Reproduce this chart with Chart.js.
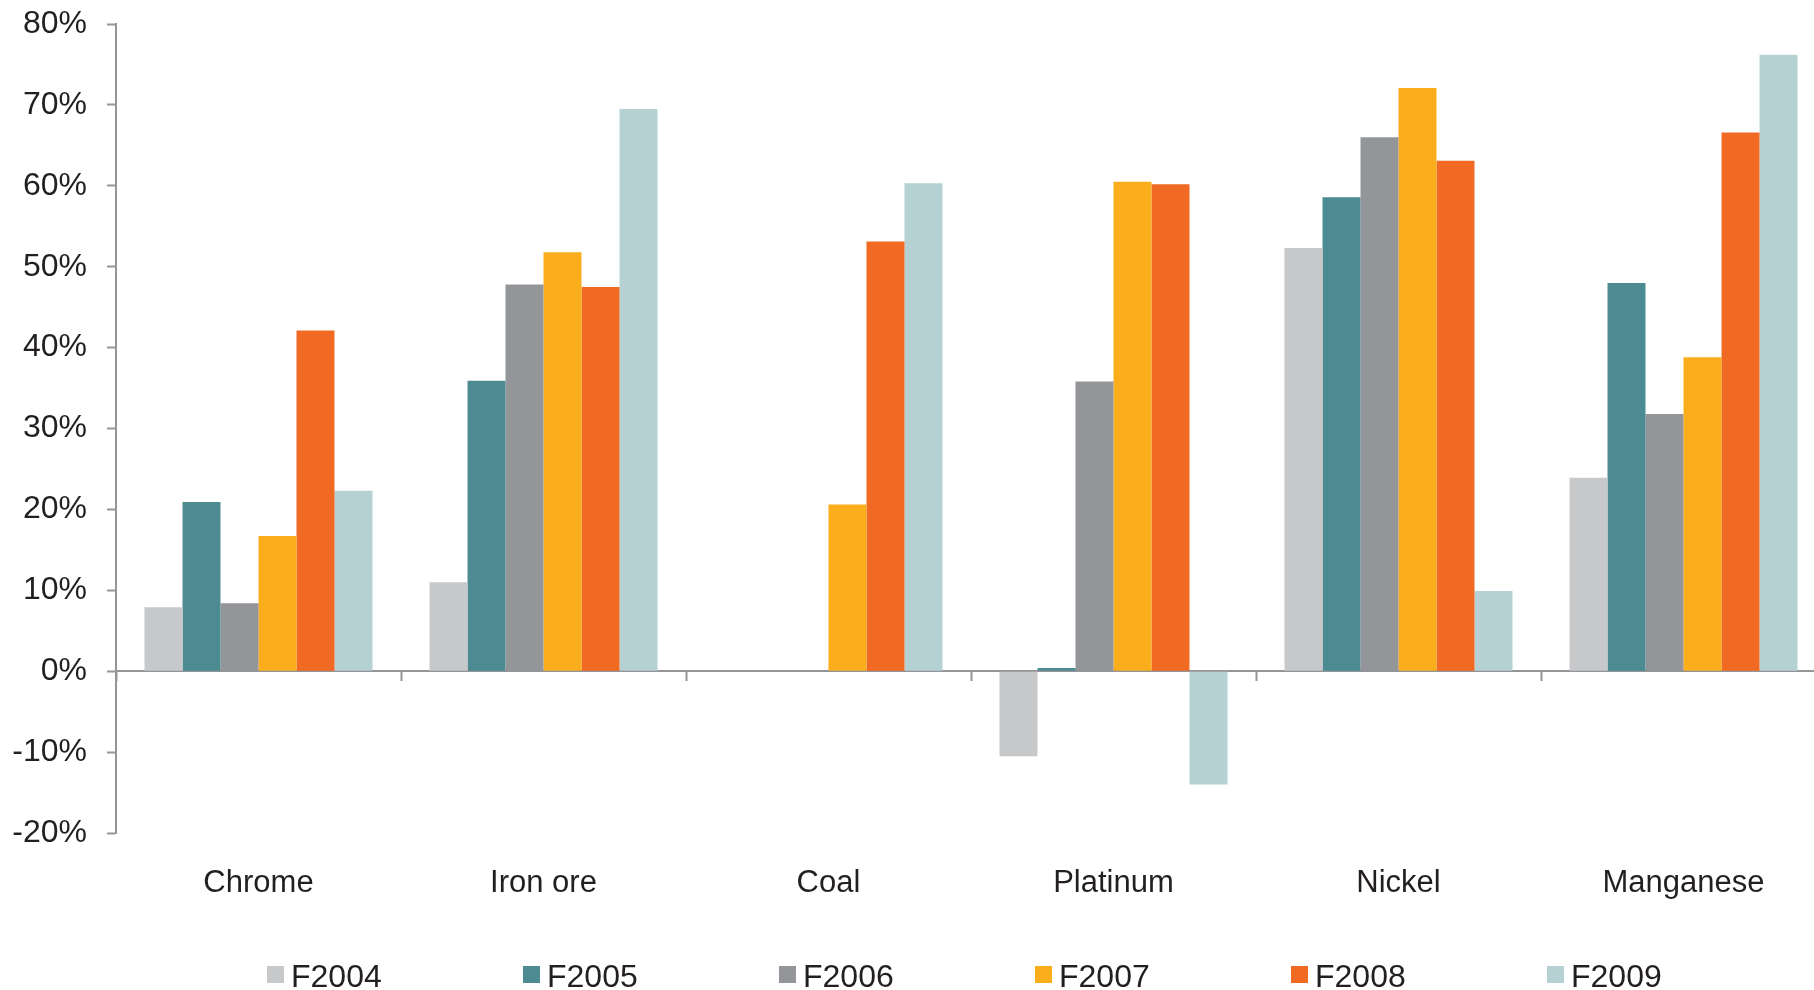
<!DOCTYPE html>
<html>
<head>
<meta charset="utf-8">
<title>Commodity price changes by financial year</title>
<script src="https://cdn.jsdelivr.net/npm/chart.js@4/dist/chart.umd.min.js"></script>
<style>
  html, body { margin: 0; padding: 0; background: #ffffff; overflow: hidden; }
  #wrap { position: relative; width: 1826px; height: 990px; }
  #chart { position: absolute; left: 0; top: 0; }
  #legend {
    position: absolute; left: 267px; top: 960px; display: flex;
    font-family: "Liberation Sans", Arial, sans-serif; font-size: 32px; line-height: 32px; color: #231f20;
  }
  #legend .item { position: relative; width: 256px; height: 32px; }
  #legend .swatch { position: absolute; left: 0; top: 6px; width: 17px; height: 17px; }
  #legend .label { position: absolute; left: 24px; top: 0; white-space: nowrap; }
</style>
</head>
<body>
<div id="wrap">
  <canvas id="chart" width="1826" height="990"></canvas>
  <div id="legend"></div>
</div>
<script>
// Commodities on the category axis
const categories = ['Chrome', 'Iron ore', 'Coal', 'Platinum', 'Nickel', 'Manganese'];

// Financial years shown as series
const seriesNames = ['F2004', 'F2005', 'F2006', 'F2007', 'F2008', 'F2009'];

// Year-on-year change per commodity, in percent
const f2004 = [7.9, 11.0, 0, -10.5, 52.3, 23.9];
const f2005 = [20.9, 35.9, 0, 0.4, 58.6, 48.0];
const f2006 = [8.4, 47.8, 0, 35.8, 66.0, 31.8];
const f2007 = [16.7, 51.8, 20.6, 60.5, 72.1, 38.8];
const f2008 = [42.1, 47.5, 53.1, 60.2, 63.1, 66.6];
const f2009 = [22.3, 69.5, 60.3, -14.0, 9.9, 76.2];

// Value axis range and tick step, in percent
const yMin = -20;
const yMax = 80;
const yStep = 10;

const seriesValues = [f2004, f2005, f2006, f2007, f2008, f2009];
const seriesColors = ['#c7c8ca', '#4d8b93', '#939598', '#fbae1b', '#f06a24', '#b6d1d4'];

const axisGray = '#939598';
const textColor = '#231f20';
const fontFamily = '"Liberation Sans", Arial, sans-serif';

// Builds the legend row underneath the chart from the datasets
const htmlLegend = {
  id: 'htmlLegend',
  afterUpdate(chart) {
    const box = document.getElementById('legend');
    box.innerHTML = '';
    chart.data.datasets.forEach((ds) => {
      const item = document.createElement('div');
      item.className = 'item';
      const sw = document.createElement('span');
      sw.className = 'swatch';
      sw.style.background = ds.backgroundColor;
      const lb = document.createElement('span');
      lb.className = 'label';
      lb.textContent = ds.label;
      item.appendChild(sw);
      item.appendChild(lb);
      box.appendChild(item);
    });
  }
};

new Chart(document.getElementById('chart'), {
  type: 'bar',
  data: {
    labels: categories,
    datasets: seriesNames.map((name, i) => ({
      label: name,
      data: seriesValues[i],
      backgroundColor: seriesColors[i],
      borderWidth: 0,
      categoryPercentage: 0.8,
      barPercentage: 1.0
    }))
  },
  options: {
    responsive: false,
    animation: false,
    devicePixelRatio: 1,
    layout: { padding: { top: 24, right: 0, bottom: 0, left: 0 } },
    plugins: {
      legend: { display: false },
      tooltip: { enabled: false }
    },
    scales: {
      x: {
        type: 'category',
        position: 'bottom',
        offset: true,
        grid: { display: false, drawTicks: false },
        border: { display: false },
        ticks: {
          padding: 32,
          color: textColor,
          font: { family: fontFamily, size: 31 },
          maxRotation: 0,
          autoSkip: false
        },
        afterFit(scale) { scale.height = 157; }
      },
      // zero line with boundary tick marks between commodities
      xZero: {
        type: 'category',
        labels: categories,
        position: { y: 0 },
        offset: true,
        grid: {
          display: true,
          offset: true,
          drawOnChartArea: false,
          drawTicks: true,
          tickLength: 9,
          tickWidth: 2,
          tickColor: axisGray,
          color: axisGray
        },
        border: { display: true, color: axisGray, width: 2 },
        ticks: { display: false }
      },
      y: {
        type: 'linear',
        position: 'left',
        min: yMin,
        max: yMax,
        grid: {
          display: true,
          drawOnChartArea: false,
          drawTicks: true,
          tickLength: 9,
          tickWidth: 2,
          tickColor: axisGray
        },
        border: { display: true, color: axisGray, width: 2 },
        ticks: {
          stepSize: yStep,
          padding: 20,
          color: textColor,
          font: { family: fontFamily, size: 32 },
          callback: (v) => v + '%'
        },
        afterFit(scale) {
          scale.width = 116;
          scale.paddingTop = 0;
          scale.paddingBottom = 0;
        }
      }
    }
  },
  plugins: [htmlLegend]
});
</script>
</body>
</html>
